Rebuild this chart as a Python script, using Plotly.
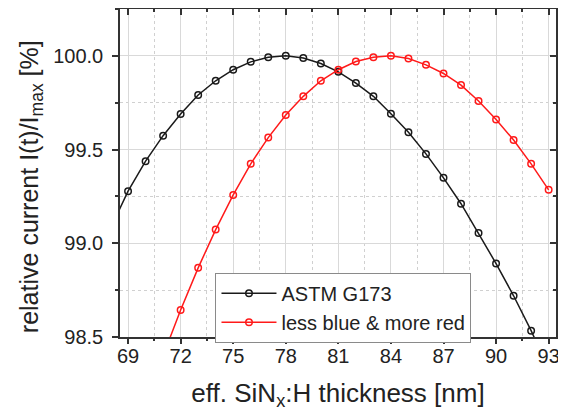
import plotly.graph_objects as go

# thickness values [nm]
x_black = [68, 69, 70, 71, 72, 73, 74, 75, 76, 77, 78, 79, 80, 81, 82, 83, 84, 85, 86, 87, 88, 89, 90, 91, 92, 93]
y_black = [99.08, 99.278, 99.438, 99.574, 99.690, 99.791, 99.867, 99.926, 99.968, 99.993, 100.0, 99.988,
           99.959, 99.915, 99.855, 99.784, 99.691, 99.592, 99.477, 99.349, 99.211, 99.055, 98.892, 98.720,
           98.534, 98.33]

x_red = [71, 72, 73, 74, 75, 76, 77, 78, 79, 80, 81, 82, 83, 84, 85, 86, 87, 88, 89, 90, 91, 92, 93]
y_red = [98.40, 98.644, 98.869, 99.073, 99.258, 99.424, 99.564, 99.684, 99.784, 99.867, 99.926, 99.970,
         99.993, 100.0, 99.986, 99.952, 99.906, 99.844, 99.759, 99.661, 99.551, 99.424, 99.285]

x_ticks = [69, 72, 75, 78, 81, 84, 87, 90, 93]
y_ticks = [98.5, 99.0, 99.5, 100.0]

series_names = ["ASTM G173", "less blue &amp; more red"]
x_title = "eff. SiN<sub>x</sub>:H thickness [nm]"
y_title = "relative current I(t)/I<sub>max</sub> [%]"

XR = [68.54, 93.42]
YR = [98.5, 100.25]
FONT = "Arial, Liberation Sans, sans-serif"
TXT = "#222222"
AX = "#333333"

fig = go.Figure()
fig.add_trace(go.Scatter(
    x=x_black, y=y_black, mode="lines+markers", name=series_names[0],
    line=dict(color="#1a1a1a", width=1.5),
    marker=dict(symbol="circle-open", size=6.5, color="#1a1a1a", line=dict(width=1.5)),
))
fig.add_trace(go.Scatter(
    x=x_red, y=y_red, mode="lines+markers", name=series_names[1],
    line=dict(color="#ff1a1a", width=1.5),
    marker=dict(symbol="circle-open", size=6.5, color="#ff1a1a", line=dict(width=1.5)),
))
# invisible traces to carry the extra (tick-only / mirrored) axes
fig.add_trace(go.Scatter(x=[XR[0]], y=[YR[0]], xaxis="x2", yaxis="y2", mode="markers",
                         marker=dict(opacity=0), showlegend=False, hoverinfo="skip"))
fig.add_trace(go.Scatter(x=[XR[0]], y=[YR[0]], xaxis="x3", yaxis="y", mode="markers",
                         marker=dict(opacity=0), showlegend=False, hoverinfo="skip"))

grid_major = "#d9d9d9"
grid_minor = "#d0d0d0"

fig.update_layout(
    width=566, height=412,
    margin=dict(l=112, r=18, t=1, b=83),
    paper_bgcolor="white", plot_bgcolor="white",
    font=dict(family=FONT, color=TXT),
    showlegend=True,
    legend=dict(
        x=0.219, y=0.196, xanchor="left", yanchor="top",
        bgcolor="white", bordercolor="#8a8a8a", borderwidth=1,
        font=dict(size=20, family=FONT, color=TXT),
        tracegroupgap=0, itemwidth=55,
    ),
    xaxis=dict(
        range=XR, tickmode="array", tickvals=x_ticks, ticktext=[str(v) for v in x_ticks],
        ticks="", showline=True, linecolor=AX, linewidth=1.5,
        showgrid=True, gridcolor=grid_major, gridwidth=1,
        minor=dict(dtick=1.5, tick0=69, ticks="",
                   showgrid=True, gridcolor=grid_minor, griddash="dot", gridwidth=1),
        tickfont=dict(size=20, family=FONT, color=TXT),
        title=dict(text=x_title, font=dict(size=26, family=FONT, color=TXT), standoff=18),
        zeroline=False,
    ),
    xaxis3=dict(
        overlaying="x", side="bottom", range=XR, tickmode="array", tickvals=x_ticks,
        showticklabels=False, ticks="outside", ticklen=6, tickwidth=1.5, tickcolor=AX,
        showline=False, showgrid=False, zeroline=False,
        minor=dict(dtick=1.5, tick0=69, ticks="outside", ticklen=3, tickcolor=AX, showgrid=False),
    ),
    yaxis=dict(
        range=YR, tickmode="array", tickvals=y_ticks, ticktext=[f"{v:.1f}" for v in y_ticks],
        ticks="outside", ticklen=6, tickwidth=1.5, tickcolor=AX,
        showline=True, linecolor=AX, linewidth=1.5,
        showgrid=True, gridcolor=grid_major, gridwidth=1,
        minor=dict(dtick=0.25, tick0=98.5, ticks="outside", ticklen=3, tickcolor=AX,
                   showgrid=True, gridcolor=grid_minor, griddash="dot", gridwidth=1),
        tickfont=dict(size=20, family=FONT, color=TXT),
        ticklabelstandoff=5,
        zeroline=False,
    ),
    xaxis2=dict(
        overlaying="x", side="top", range=XR, tickmode="array", tickvals=x_ticks,
        showticklabels=False, ticks="inside", ticklen=6, tickwidth=1.5, tickcolor=AX,
        showline=True, linecolor=AX, linewidth=1.5, showgrid=False, zeroline=False,
        minor=dict(dtick=1.5, tick0=69, ticks="inside", ticklen=3, tickcolor=AX, showgrid=False),
    ),
    yaxis2=dict(
        overlaying="y", side="right", range=YR, tickmode="array", tickvals=y_ticks,
        showticklabels=False, ticks="inside", ticklen=6, tickwidth=1.5, tickcolor=AX,
        showline=True, linecolor=AX, linewidth=1.5, showgrid=False, zeroline=False,
        minor=dict(dtick=0.25, tick0=98.5, ticks="inside", ticklen=3, tickcolor=AX, showgrid=False),
    ),
    annotations=[dict(
        text=y_title, textangle=-90, xref="paper", yref="paper",
        x=-0.204, y=0.457, xanchor="center", yanchor="middle", showarrow=False,
        font=dict(size=25, family=FONT, color=TXT),
    )],
)

fig.write_html("out.html")
